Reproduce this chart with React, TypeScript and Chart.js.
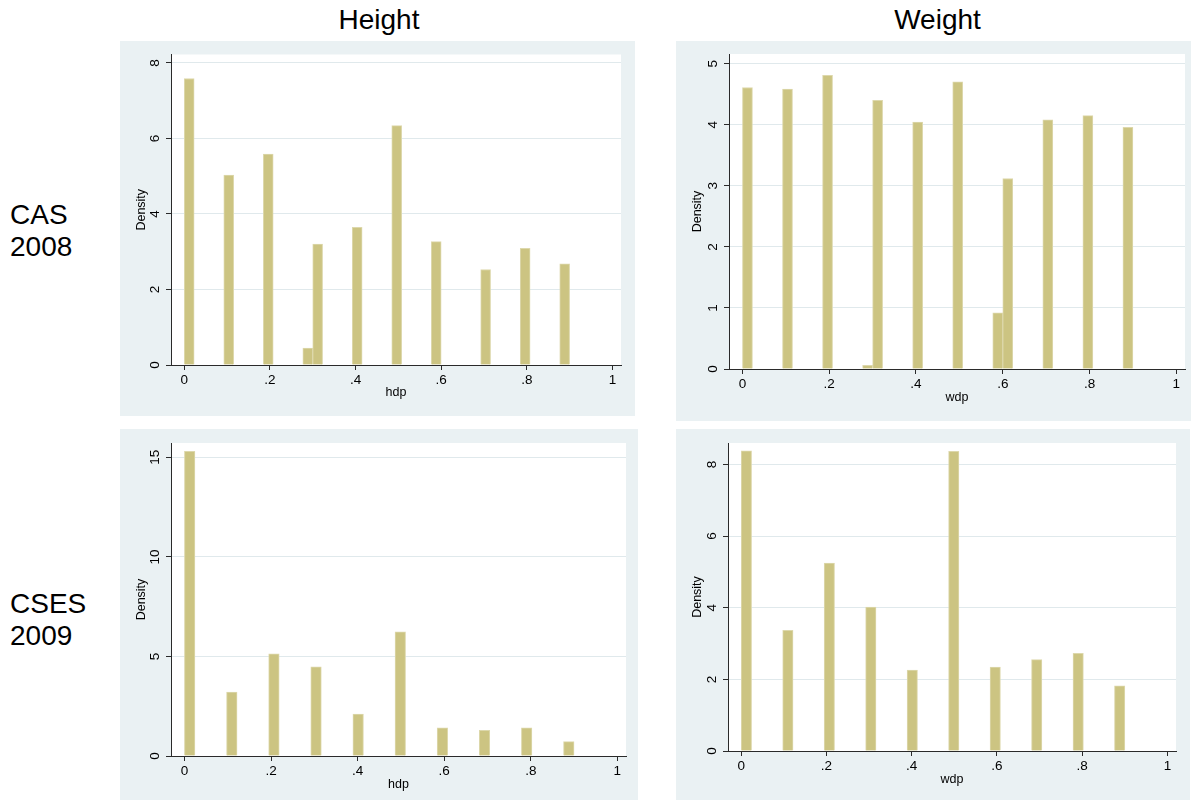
import React, { useEffect, useRef } from 'react';
import { Chart, registerables } from 'chart.js';

Chart.register(...registerables);

// ---------- text ----------
const columnTitles = ['Height', 'Weight'];
const rowLabels = [
  ['CAS', '2008'],
  ['CSES', '2009'],
];
const yAxisTitle = 'Density';

// ---------- histogram data (bins span [0, .9]) ----------
const binRangeMax = 0.9;

// CAS 2008 – height (hdp), 39 bins
const casHeightBinCount = 39;
const casHeightBins = [0, 4, 8, 12, 13, 17, 21, 25, 30, 34, 38];
const casHeightDensity = [7.59, 5.03, 5.59, 0.45, 3.2, 3.65, 6.34, 3.27, 2.53, 3.09, 2.68];
const casHeightYTicks = [0, 2, 4, 6, 8];

// CAS 2008 – weight (wdp), 39 bins
const casWeightBinCount = 39;
const casWeightBins = [0, 4, 8, 12, 13, 17, 21, 25, 26, 30, 34, 38];
const casWeightDensity = [4.61, 4.585, 4.81, 0.06, 4.4, 4.045, 4.705, 0.92, 3.12, 4.08, 4.15, 3.96];
const casWeightYTicks = [0, 1, 2, 3, 4, 5];

// CSES 2009 – height (hdp), 37 bins
const csesHeightBinCount = 37;
const csesHeightBins = [0, 4, 8, 12, 16, 20, 24, 28, 32, 36];
const csesHeightDensity = [15.3, 3.21, 5.13, 4.48, 2.11, 6.24, 1.42, 1.29, 1.42, 0.72];
const csesHeightYTicks = [0, 5, 10, 15];

// CSES 2009 – weight (wdp), 37 bins
const csesWeightBinCount = 37;
const csesWeightBins = [0, 4, 8, 12, 16, 20, 24, 28, 32, 36];
const csesWeightDensity = [8.38, 3.37, 5.25, 4.02, 2.26, 8.37, 2.34, 2.55, 2.73, 1.82];
const csesWeightYTicks = [0, 2, 4, 6, 8];

// x axis ticks
const xTickValues = [0, 0.2, 0.4, 0.6, 0.8, 1];
const xTickLabels = ['0', '.2', '.4', '.6', '.8', '1'];

// ---------- styles ----------
const FONT = '"Liberation Sans", Arial, Helvetica, sans-serif';
const PANEL_BG = '#EAF1F3';
const GRID = '#E0E9EC';
const AXIS = '#2a2a2a';
const BAR = '#CCC482';
const BAR_EDGE = '#DDD8AC';
const TEXT = '#000000';
const TICK_SIZE = 13.5;

function histogramPoints(binCount: number, bins: number[], density: number[]) {
  const w = binRangeMax / binCount;
  const pts: { x: number; y: number }[] = [];
  for (let k = 0; k < binCount; k++) {
    const i = bins.indexOf(k);
    pts.push({ x: (k + 0.5) * w, y: i >= 0 ? density[i] : 0 });
  }
  return pts;
}

type PanelSpec = {
  left: number;
  top: number;
  width: number;
  height: number;
  insetLeft: number;
  insetTop: number;
  insetRight: number;
  insetBottom: number;
  xTitleGap: number;
  xTitle: string;
  yMax: number;
  yTicks: number[];
  points: { x: number; y: number }[];
};

const panels: PanelSpec[] = [
  {
    left: 120, top: 41, width: 515, height: 375,
    insetLeft: 51, insetTop: 13.5, insetRight: 14, insetBottom: 51, xTitleGap: 27.5,
    xTitle: 'hdp', yMax: 8.225, yTicks: casHeightYTicks,
    points: histogramPoints(casHeightBinCount, casHeightBins, casHeightDensity),
  },
  {
    left: 676, top: 41, width: 515, height: 380,
    insetLeft: 53, insetTop: 13, insetRight: 6, insetBottom: 52, xTitleGap: 29,
    xTitle: 'wdp', yMax: 5.159, yTicks: casWeightYTicks,
    points: histogramPoints(casWeightBinCount, casWeightBins, casWeightDensity),
  },
  {
    left: 120, top: 429, width: 518, height: 378,
    insetLeft: 51, insetTop: 14, insetRight: 12, insetBottom: 51, xTitleGap: 28.4,
    xTitle: 'hdp', yMax: 15.72, yTicks: csesHeightYTicks,
    points: histogramPoints(csesHeightBinCount, csesHeightBins, csesHeightDensity),
  },
  {
    left: 676, top: 429, width: 514, height: 373,
    insetLeft: 52, insetTop: 14, insetRight: 14, insetBottom: 51, xTitleGap: 28.4,
    xTitle: 'wdp', yMax: 8.6, yTicks: csesWeightYTicks,
    points: histogramPoints(csesWeightBinCount, csesWeightBins, csesWeightDensity),
  },
];

const plotBgPlugin = {
  id: 'plotBg',
  beforeDraw(chart: any) {
    const { ctx, chartArea } = chart;
    ctx.save();
    ctx.fillStyle = '#ffffff';
    ctx.fillRect(chartArea.left, chartArea.top, chartArea.right - chartArea.left, chartArea.bottom - chartArea.top);
    ctx.restore();
  },
};

const yRotatedLabels = {
  id: 'yRotatedLabels',
  afterDraw(chart: any) {
    const s = chart.scales.y;
    const ctx = chart.ctx;
    ctx.save();
    ctx.font = `${TICK_SIZE}px ${FONT}`;
    ctx.fillStyle = TEXT;
    ctx.textAlign = 'center';
    ctx.textBaseline = 'middle';
    s.ticks.forEach((t: any) => {
      const y = s.getPixelForValue(t.value);
      ctx.save();
      ctx.translate(chart.chartArea.left - 15.5, y);
      ctx.rotate(-Math.PI / 2);
      ctx.fillText(String(t.value), 0, 0);
      ctx.restore();
    });
    ctx.restore();
  },
};

function buildConfig(p: PanelSpec): any {
  return {
    type: 'bar',
    data: {
      datasets: [
        {
          data: p.points,
          backgroundColor: BAR,
          borderColor: BAR_EDGE,
          borderWidth: 1,
          borderSkipped: 'start',
          barPercentage: 1,
          categoryPercentage: 1,
        },
      ],
    },
    options: {
      animation: false,
      responsive: false,
      maintainAspectRatio: false,
      layout: { padding: { left: 0, top: p.insetTop, right: p.insetRight, bottom: 0 } },
      plugins: { legend: { display: false }, tooltip: { enabled: false } },
      scales: {
        x: {
          type: 'linear',
          min: -0.031,
          max: 1.02,
          offset: false,
          afterBuildTicks: (s: any) => {
            s.ticks = xTickValues.map((v) => ({ value: v }));
          },
          afterFit: (s: any) => {
            s.height = p.insetBottom;
          },
          ticks: {
            autoSkip: false,
            maxRotation: 0,
            padding: 2,
            color: TEXT,
            font: { family: FONT, size: TICK_SIZE },
            callback: (_v: any, i: number) => xTickLabels[i],
          },
          grid: {
            offset: false,
            drawOnChartArea: false,
            drawTicks: true,
            tickLength: 5,
            tickColor: AXIS,
          },
          border: { display: true, color: AXIS, width: 1 },
          title: {
            display: true,
            text: p.xTitle,
            color: TEXT,
            font: { family: FONT, size: 12.5 },
            padding: { top: 0, bottom: p.insetBottom - p.xTitleGap - 7.5 },
          },
        },
        y: {
          type: 'linear',
          min: 0,
          max: p.yMax,
          afterBuildTicks: (s: any) => {
            s.ticks = p.yTicks.map((v) => ({ value: v }));
          },
          afterFit: (s: any) => {
            s.width = p.insetLeft;
          },
          ticks: { display: false },
          grid: {
            drawOnChartArea: true,
            drawTicks: true,
            tickLength: 5,
            tickColor: AXIS,
            lineWidth: 1,
            color: (ctx: any) => (ctx.tick && ctx.tick.value === 0 ? 'rgba(0,0,0,0)' : GRID),
          },
          border: { display: true, color: AXIS, width: 1 },
          title: {
            display: true,
            text: yAxisTitle,
            color: TEXT,
            font: { family: FONT, size: 12.5 },
            padding: { top: 14.5, bottom: 0 },
          },
        },
      },
    },
    plugins: [plotBgPlugin, yRotatedLabels],
  };
}

function Panel({ spec }: { spec: PanelSpec }) {
  const ref = useRef<HTMLCanvasElement>(null);
  useEffect(() => {
    if (!ref.current) return;
    const chart = new Chart(ref.current, buildConfig(spec));
    return () => chart.destroy();
  }, [spec]);
  return (
    <div
      style={{
        position: 'absolute',
        left: spec.left,
        top: spec.top,
        width: spec.width,
        height: spec.height,
        background: PANEL_BG,
      }}
    >
      <canvas ref={ref} width={spec.width} height={spec.height} style={{ display: 'block' }} />
    </div>
  );
}

export default function App() {
  const textStyle: React.CSSProperties = {
    position: 'absolute',
    fontFamily: FONT,
    fontSize: 28,
    lineHeight: '32px',
    color: TEXT,
    whiteSpace: 'nowrap',
  };
  return (
    <div
      style={{
        position: 'absolute',
        left: 0,
        top: 0,
        width: 1192,
        height: 800,
        overflow: 'hidden',
        background: '#ffffff',
      }}
    >
      <div style={{ ...textStyle, left: 279, top: 4.3, width: 200, textAlign: 'center' }}>{columnTitles[0]}</div>
      <div style={{ ...textStyle, left: 837.5, top: 4.3, width: 200, textAlign: 'center' }}>{columnTitles[1]}</div>
      <div style={{ ...textStyle, left: 10, top: 199.3 }}>
        {rowLabels[0][0]}
        <br />
        {rowLabels[0][1]}
      </div>
      <div style={{ ...textStyle, left: 10, top: 588.3 }}>
        {rowLabels[1][0]}
        <br />
        {rowLabels[1][1]}
      </div>
      {panels.map((p, i) => (
        <Panel key={i} spec={p} />
      ))}
    </div>
  );
}
